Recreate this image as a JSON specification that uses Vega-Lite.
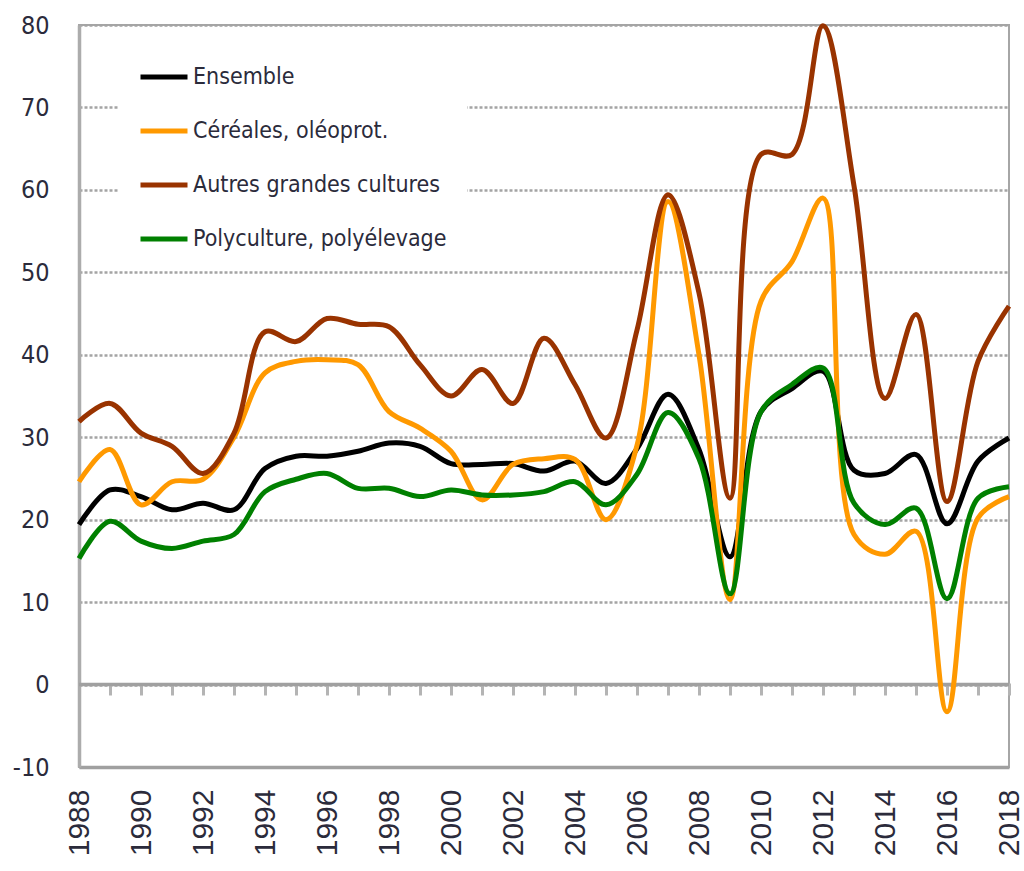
{
"$schema": "https://vega.github.io/schema/vega-lite/v6.json",
"width": 930, "height": 742,
"autosize": "none",
"padding": {"left": 79, "top": 25, "right": 15, "bottom": 104},
"background": "white",
"config": {"view": {"stroke": "#a6a6a6", "strokeWidth": 2}, "font": "Liberation Sans"},
"datasets": {"d": [
{"year":1988,"serie":"Ensemble","value":19.4},{"year":1989,"serie":"Ensemble","value":23.6},{"year":1990,"serie":"Ensemble","value":22.8},{"year":1991,"serie":"Ensemble","value":21.2},{"year":1992,"serie":"Ensemble","value":22},{"year":1993,"serie":"Ensemble","value":21.2},{"year":1994,"serie":"Ensemble","value":26.2},{"year":1995,"serie":"Ensemble","value":27.7},{"year":1996,"serie":"Ensemble","value":27.7},{"year":1997,"serie":"Ensemble","value":28.3},{"year":1998,"serie":"Ensemble","value":29.3},{"year":1999,"serie":"Ensemble","value":28.9},{"year":2000,"serie":"Ensemble","value":26.8},{"year":2001,"serie":"Ensemble","value":26.7},{"year":2002,"serie":"Ensemble","value":26.8},{"year":2003,"serie":"Ensemble","value":25.9},{"year":2004,"serie":"Ensemble","value":27.1},{"year":2005,"serie":"Ensemble","value":24.4},{"year":2006,"serie":"Ensemble","value":28.6},{"year":2007,"serie":"Ensemble","value":35.2},{"year":2008,"serie":"Ensemble","value":28.5},{"year":2009,"serie":"Ensemble","value":15.5},{"year":2010,"serie":"Ensemble","value":33.1},{"year":2011,"serie":"Ensemble","value":35.9},{"year":2012,"serie":"Ensemble","value":38},{"year":2013,"serie":"Ensemble","value":26},{"year":2014,"serie":"Ensemble","value":25.6},{"year":2015,"serie":"Ensemble","value":27.9},{"year":2016,"serie":"Ensemble","value":19.5},{"year":2017,"serie":"Ensemble","value":27.1},{"year":2018,"serie":"Ensemble","value":29.9},
{"year":1988,"serie":"Céréales, oléoprot.","value":24.6},{"year":1989,"serie":"Céréales, oléoprot.","value":28.5},{"year":1990,"serie":"Céréales, oléoprot.","value":21.8},{"year":1991,"serie":"Céréales, oléoprot.","value":24.6},{"year":1992,"serie":"Céréales, oléoprot.","value":24.9},{"year":1993,"serie":"Céréales, oléoprot.","value":30},{"year":1994,"serie":"Céréales, oléoprot.","value":37.8},{"year":1995,"serie":"Céréales, oléoprot.","value":39.2},{"year":1996,"serie":"Céréales, oléoprot.","value":39.4},{"year":1997,"serie":"Céréales, oléoprot.","value":38.8},{"year":1998,"serie":"Céréales, oléoprot.","value":33.1},{"year":1999,"serie":"Céréales, oléoprot.","value":31.1},{"year":2000,"serie":"Céréales, oléoprot.","value":28.3},{"year":2001,"serie":"Céréales, oléoprot.","value":22.4},{"year":2002,"serie":"Céréales, oléoprot.","value":26.7},{"year":2003,"serie":"Céréales, oléoprot.","value":27.4},{"year":2004,"serie":"Céréales, oléoprot.","value":27.3},{"year":2005,"serie":"Céréales, oléoprot.","value":20},{"year":2006,"serie":"Céréales, oléoprot.","value":29},{"year":2007,"serie":"Céréales, oléoprot.","value":58.6},{"year":2008,"serie":"Céréales, oléoprot.","value":40},{"year":2009,"serie":"Céréales, oléoprot.","value":10.3},{"year":2010,"serie":"Céréales, oléoprot.","value":46.5},{"year":2011,"serie":"Céréales, oléoprot.","value":51.3},{"year":2012,"serie":"Céréales, oléoprot.","value":59},{"year":2013,"serie":"Céréales, oléoprot.","value":18.2},{"year":2014,"serie":"Céréales, oléoprot.","value":15.8},{"year":2015,"serie":"Céréales, oléoprot.","value":18.6},{"year":2016,"serie":"Céréales, oléoprot.","value":-3.3},{"year":2017,"serie":"Céréales, oléoprot.","value":20.2},{"year":2018,"serie":"Céréales, oléoprot.","value":22.8},
{"year":1988,"serie":"Autres grandes cultures","value":31.9},{"year":1989,"serie":"Autres grandes cultures","value":34.1},{"year":1990,"serie":"Autres grandes cultures","value":30.5},{"year":1991,"serie":"Autres grandes cultures","value":28.9},{"year":1992,"serie":"Autres grandes cultures","value":25.6},{"year":1993,"serie":"Autres grandes cultures","value":30.5},{"year":1994,"serie":"Autres grandes cultures","value":42.8},{"year":1995,"serie":"Autres grandes cultures","value":41.6},{"year":1996,"serie":"Autres grandes cultures","value":44.4},{"year":1997,"serie":"Autres grandes cultures","value":43.7},{"year":1998,"serie":"Autres grandes cultures","value":43.4},{"year":1999,"serie":"Autres grandes cultures","value":38.8},{"year":2000,"serie":"Autres grandes cultures","value":35},{"year":2001,"serie":"Autres grandes cultures","value":38.2},{"year":2002,"serie":"Autres grandes cultures","value":34.1},{"year":2003,"serie":"Autres grandes cultures","value":42},{"year":2004,"serie":"Autres grandes cultures","value":36.4},{"year":2005,"serie":"Autres grandes cultures","value":29.9},{"year":2006,"serie":"Autres grandes cultures","value":43},{"year":2007,"serie":"Autres grandes cultures","value":59.4},{"year":2008,"serie":"Autres grandes cultures","value":47.5},{"year":2009,"serie":"Autres grandes cultures","value":22.6},{"year":2010,"serie":"Autres grandes cultures","value":64.3},{"year":2011,"serie":"Autres grandes cultures","value":64.3},{"year":2012,"serie":"Autres grandes cultures","value":79.9},{"year":2013,"serie":"Autres grandes cultures","value":60.5},{"year":2014,"serie":"Autres grandes cultures","value":34.7},{"year":2015,"serie":"Autres grandes cultures","value":44.9},{"year":2016,"serie":"Autres grandes cultures","value":22.2},{"year":2017,"serie":"Autres grandes cultures","value":39.2},{"year":2018,"serie":"Autres grandes cultures","value":45.9},
{"year":1988,"serie":"Polyculture, polyélevage","value":15.3},{"year":1989,"serie":"Polyculture, polyélevage","value":19.8},{"year":1990,"serie":"Polyculture, polyélevage","value":17.4},{"year":1991,"serie":"Polyculture, polyélevage","value":16.5},{"year":1992,"serie":"Polyculture, polyélevage","value":17.4},{"year":1993,"serie":"Polyculture, polyélevage","value":18.2},{"year":1994,"serie":"Polyculture, polyélevage","value":23.4},{"year":1995,"serie":"Polyculture, polyélevage","value":24.9},{"year":1996,"serie":"Polyculture, polyélevage","value":25.6},{"year":1997,"serie":"Polyculture, polyélevage","value":23.8},{"year":1998,"serie":"Polyculture, polyélevage","value":23.8},{"year":1999,"serie":"Polyculture, polyélevage","value":22.8},{"year":2000,"serie":"Polyculture, polyélevage","value":23.6},{"year":2001,"serie":"Polyculture, polyélevage","value":23},{"year":2002,"serie":"Polyculture, polyélevage","value":23},{"year":2003,"serie":"Polyculture, polyélevage","value":23.4},{"year":2004,"serie":"Polyculture, polyélevage","value":24.6},{"year":2005,"serie":"Polyculture, polyélevage","value":21.8},{"year":2006,"serie":"Polyculture, polyélevage","value":25.5},{"year":2007,"serie":"Polyculture, polyélevage","value":33},{"year":2008,"serie":"Polyculture, polyélevage","value":27.4},{"year":2009,"serie":"Polyculture, polyélevage","value":11},{"year":2010,"serie":"Polyculture, polyélevage","value":33.1},{"year":2011,"serie":"Polyculture, polyélevage","value":36.4},{"year":2012,"serie":"Polyculture, polyélevage","value":38.4},{"year":2013,"serie":"Polyculture, polyélevage","value":22},{"year":2014,"serie":"Polyculture, polyélevage","value":19.4},{"year":2015,"serie":"Polyculture, polyélevage","value":21.4},{"year":2016,"serie":"Polyculture, polyélevage","value":10.4},{"year":2017,"serie":"Polyculture, polyélevage","value":22.6},{"year":2018,"serie":"Polyculture, polyélevage","value":24}
]},
"data": {"name": "d"},
"layer": [
  {
    "mark": {"type": "rule", "color": "#a0a0a0", "strokeWidth": 3.5},
    "encoding": {
      "x": {"field": "year", "type": "quantitative", "aggregate": "min",
        "scale": {"domain": [1988, 2018], "nice": false, "zero": false},
        "axis": {"orient": "bottom", "offset": -84, "values": [1988,1989,1990,1991,1992,1993,1994,1995,1996,1997,1998,1999,2000,2001,2002,2003,2004,2005,2006,2007,2008,2009,2010,2011,2012,2013,2014,2015,2016,2017,2018],
          "labels": false, "ticks": true, "tickSize": 12, "tickWidth": 3, "tickColor": "#b4b4b4", "domain": false, "grid": false, "title": null}},
      "x2": {"field": "year", "aggregate": "max"},
      "y": {"datum": 0, "type": "quantitative",
        "scale": {"domain": [-10, 80], "nice": false},
        "axis": {"values": [-10,0,10,20,30,40,50,60,70,80], "labelExpr": "'' + datum.value", "labelFontSize": 25, "labelFont": "DejaVu Sans Condensed", "labelColor": "#2b2b3b", "labelPadding": 30, "ticks": false, "domainColor": "#acacac", "domainWidth": 3.5, "grid": true, "gridColor": "#a4a4a4", "gridWidth": 2.5, "gridDash": [3, 2], "title": null, "labelFlush": false}}
    }
  },
  {
    "mark": {"type": "line", "interpolate": "catmull-rom", "strokeWidth": 5},
    "encoding": {
      "x": {"field": "year", "type": "quantitative",
        "scale": {"domain": [1988, 2018], "nice": false, "zero": false},
        "axis": {"orient": "bottom", "values": [1988,1990,1992,1994,1996,1998,2000,2002,2004,2006,2008,2010,2012,2014,2016,2018], "format": "d", "labelAngle": -90, "labelFontSize": 30, "labelFont": "Liberation Sans", "labelColor": "#2b2b3b", "labelPadding": 22, "ticks": false, "domain": true, "domainColor": "#a0a0a0", "domainWidth": 3.5, "grid": false, "title": null, "labelFlush": false, "labelOverlap": false}},
      "y": {"field": "value", "type": "quantitative",
        "scale": {"domain": [-10, 80], "nice": false},
        "axis": {"values": [-10,0,10,20,30,40,50,60,70,80], "labelExpr": "'' + datum.value", "labelFontSize": 25, "labelFont": "DejaVu Sans Condensed", "labelColor": "#2b2b3b", "labelPadding": 30, "ticks": false, "domainColor": "#acacac", "domainWidth": 3.5, "grid": true, "gridColor": "#a4a4a4", "gridWidth": 2.5, "gridDash": [3, 2], "title": null, "labelFlush": false}},
      "color": {"field": "serie", "type": "nominal",
        "scale": {"domain": ["Ensemble", "Céréales, oléoprot.", "Autres grandes cultures", "Polyculture, polyélevage"], "range": ["#000000", "#ff9900", "#993300", "#008000"]},
        "legend": {"orient": "none", "legendX": 39, "legendY": 6, "title": null, "symbolType": "stroke", "symbolSize": 2209, "symbolStrokeWidth": 5, "labelFontSize": 23, "labelFont": "DejaVu Sans Condensed", "labelColor": "#2b2b3b", "labelLimit": 420, "rowPadding": 16, "padding": 20, "fillColor": "white", "labelOffset": 3}}
    }
  }
],
"resolve": {"axis": {"x": "independent"}}
}
